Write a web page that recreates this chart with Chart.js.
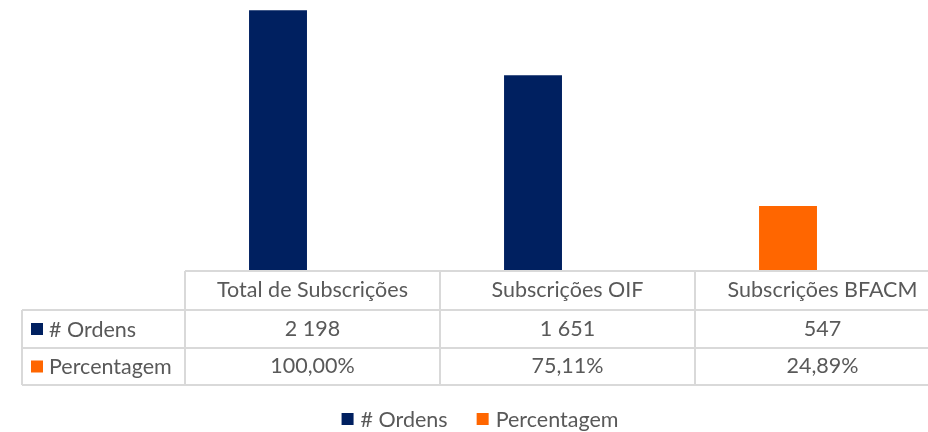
<!DOCTYPE html>
<html>
<head>
<meta charset="utf-8">
<script src="https://cdn.jsdelivr.net/npm/chart.js@4/dist/chart.umd.min.js"></script>
<style>
  html, body { margin: 0; padding: 0; background: #fff; overflow: hidden; width: 928px; height: 432px; }
  #wrap { position: absolute; left: 0; top: 0; width: 950px; height: 432px; }
</style>
</head>
<body>
<div id="wrap"><canvas id="c" width="950" height="432"></canvas></div>
<script>
const categories = ['Total de Subscrições', 'Subscrições OIF', 'Subscrições BFACM'];
const ordens = [2198, 1651, 547];
const percentagem = [1.0, 0.7511, 0.2489];
const seriesNames = ['# Ordens', 'Percentagem'];

const NAVY = '#002060';
const ORANGE = '#FF6600';
const TEXT = '#595959';
const GRID = '#D9D9D9';
const FONT = 'Lato, "Open Sans", sans-serif';
const FSIZE = 21.5;

function fmtInt(v) {
  return String(v).replace(/\B(?=(\d{3})+(?!\d))/g, ' ');
}
function fmtPct(v) {
  return (v * 100).toFixed(2).replace('.', ',') + '%';
}

const tablePlugin = {
  id: 'dataTable',
  afterDraw(chart) {
    const ctx = chart.ctx;
    const xs = chart.scales.x;
    const area = chart.chartArea;
    const top = area.bottom;
    const rowH = [39, 38, 37];
    const y0 = top, y1 = y0 + rowH[0], y2 = y1 + rowH[1], y3 = y2 + rowH[2];
    const labelLeft = 22;
    const left = area.left, right = area.right;
    const n = categories.length;
    const colW = (right - left) / n;

    ctx.save();
    ctx.strokeStyle = GRID;
    ctx.lineWidth = 2;
    ctx.beginPath();
    ctx.moveTo(left, y0); ctx.lineTo(right, y0);
    ctx.moveTo(labelLeft, y1); ctx.lineTo(right, y1);
    ctx.moveTo(labelLeft, y2); ctx.lineTo(right, y2);
    ctx.moveTo(labelLeft, y3); ctx.lineTo(right, y3);
    ctx.moveTo(labelLeft, y1); ctx.lineTo(labelLeft, y3);
    for (let i = 0; i <= n; i++) {
      const x = left + i * colW;
      ctx.moveTo(x, y0); ctx.lineTo(x, y3);
    }
    ctx.stroke();

    ctx.fillStyle = TEXT;
    ctx.font = FSIZE + 'px ' + FONT;
    ctx.textAlign = 'center';
    ctx.textBaseline = 'middle';
    for (let i = 0; i < n; i++) {
      const cx = xs.getPixelForValue(i);
      ctx.fillText(categories[i], cx, (y0 + y1) / 2);
      ctx.fillText(fmtInt(ordens[i]), cx, (y1 + y2) / 2);
      ctx.fillText(fmtPct(percentagem[i]), cx, (y2 + y3) / 2);
    }
    const keyColors = [NAVY, ORANGE];
    const rowsMid = [(y1 + y2) / 2, (y2 + y3) / 2];
    ctx.textAlign = 'left';
    for (let r = 0; r < 2; r++) {
      ctx.fillStyle = keyColors[r];
      ctx.fillRect(31, rowsMid[r] - 6, 12, 12);
      ctx.fillStyle = TEXT;
      ctx.fillText(seriesNames[r], 49, rowsMid[r] + 1);
    }

    const ly = 419;
    const sq = 12, gapIn = 7, gapOut = 29;
    const w0 = ctx.measureText(seriesNames[0]).width;
    const w1 = ctx.measureText(seriesNames[1]).width;
    const total = sq + gapIn + w0 + gapOut + sq + gapIn + w1;
    let x = 480 - total / 2;
    ctx.fillStyle = keyColors[0];
    ctx.fillRect(x, ly - 6, sq, sq);
    x += sq + gapIn;
    ctx.fillStyle = TEXT;
    ctx.fillText(seriesNames[0], x, ly + 1);
    x += w0 + gapOut;
    ctx.fillStyle = keyColors[1];
    ctx.fillRect(x, ly - 6, sq, sq);
    x += sq + gapIn;
    ctx.fillStyle = TEXT;
    ctx.fillText(seriesNames[1], x, ly + 1);
    ctx.restore();
  }
};

new Chart(document.getElementById('c'), {
  type: 'bar',
  data: {
    labels: categories,
    datasets: [
      {
        label: seriesNames[0],
        data: ordens,
        backgroundColor: [NAVY, NAVY, ORANGE],
        borderWidth: 0,
        categoryPercentage: 0.541,
        barPercentage: 0.84
      },
      {
        label: seriesNames[1],
        data: percentagem,
        backgroundColor: ORANGE,
        borderWidth: 0,
        categoryPercentage: 0.541,
        barPercentage: 0.84
      }
    ]
  },
  options: {
    responsive: false,
    devicePixelRatio: 1,
    animation: false,
    layout: { padding: { top: 10, left: 0, right: 0, bottom: 0 } },
    plugins: {
      legend: { display: false },
      tooltip: { enabled: false }
    },
    scales: {
      x: {
        display: true,
        grid: { display: false },
        border: { display: false },
        ticks: { display: false },
        afterFit(s) { s.height = 161; }
      },
      y: {
        display: true,
        min: 0,
        max: 2200,
        grid: { display: false },
        border: { display: false },
        ticks: { display: false },
        afterFit(s) { s.width = 185; }
      }
    }
  },
  plugins: [tablePlugin]
});
</script>
</body>
</html>
